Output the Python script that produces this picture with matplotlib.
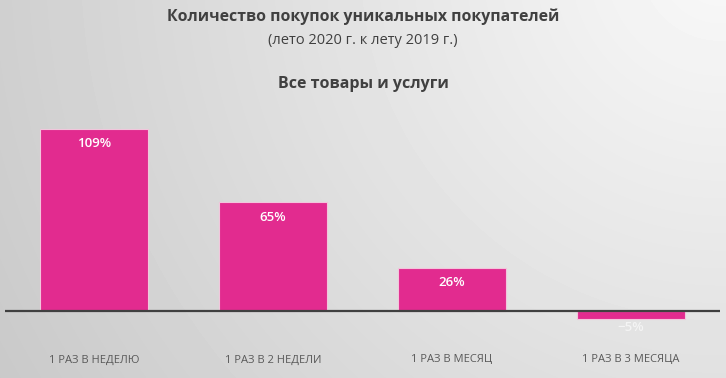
import matplotlib.pyplot as plt
import numpy as np

categories = ["1 РАЗ В НЕДЕЛЮ", "1 РАЗ В 2 НЕДЕЛИ", "1 РАЗ В МЕСЯЦ", "1 РАЗ В 3 МЕСЯЦА"]
values = [109, 65, 26, -5]
labels = ["109%", "65%", "26%", "\u22125%"]

plt.rcParams['font.family'] = ['Open Sans', 'DejaVu Sans']

W, H = 726, 378
fig = plt.figure(figsize=(W / 100, H / 100), dpi=100)

# gradient background, light at top right
bg = fig.add_axes([0, 0, 1, 1], zorder=-10)
yy, xx = np.mgrid[0:H, 0:W]
d = np.sqrt((xx - 720.0) ** 2 + (yy + 40.0) ** 2) / 850.0
shade = 0.975 - 0.19 * np.clip(d, 0, 1)
bg.imshow(shade, cmap='gray', vmin=0, vmax=1, aspect='auto',
          extent=[0, W, H, 0], interpolation='bilinear')
bg.set_axis_off()

# axes in pixel coordinates
left, right, top, bottom = 5, 720, 120, 325
ax = fig.add_axes([left / W, 1 - bottom / H, (right - left) / W, (bottom - top) / H])
ax.set_facecolor('none')
ppu = 1.67
ax.set_xlim(-0.5, 3.5)
ax.set_ylim(-(bottom - 311) / ppu, (311 - top) / ppu)

x = np.arange(len(categories))
ax.bar(x, values, width=0.605, color='#E22B8F', edgecolor='#f2c6dc', linewidth=0.8)
ax.axhline(0, color='#404040', linewidth=1.6, zorder=5)

for xi, v, lab in zip(x, values, labels):
    if v > 0:
        ax.text(xi, v - 5, lab, ha='center', va='top', color='white',
                fontsize=9.5, fontweight='semibold')
    else:
        ax.text(xi, v - 1, lab, ha='center', va='top', color='#f4f4f4',
                fontsize=9.5, fontweight='semibold')

for s in ax.spines.values():
    s.set_visible(False)
ax.set_xticks([])
ax.set_yticks([])

for xi, c in zip(x, categories):
    px = left + (xi + 0.5) * (right - left) / 4
    fig.text(px / W, 1 - 360 / H, c, ha='center', va='center',
             color='#595959', fontsize=8)

fig.text(0.5, 1 - 17 / H, "Количество покупок уникальных покупателей",
         ha='center', va='center', color='#404040', fontsize=11.4, fontweight='bold')
fig.text(0.5, 1 - 40 / H, "(лето 2020 г. к лету 2019 г.)",
         ha='center', va='center', color='#404040', fontsize=10.5)
fig.text(0.5, 1 - 84 / H, "Все товары и услуги",
         ha='center', va='center', color='#404040', fontsize=11.5, fontweight='bold')

fig.savefig('out.png', dpi=100)
